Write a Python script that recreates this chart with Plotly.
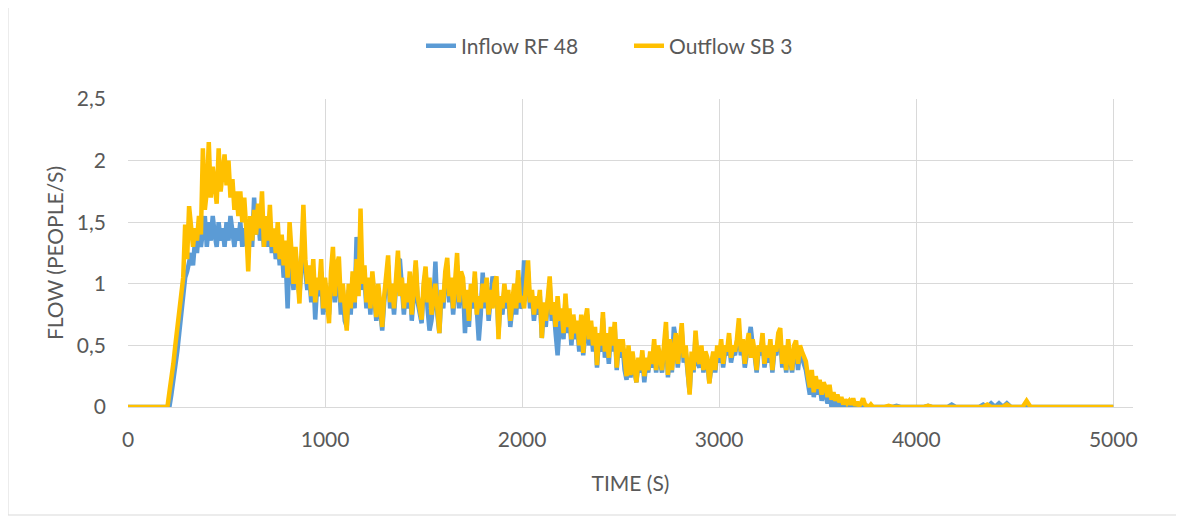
import plotly.graph_objects as go

# time axis (s): 20 s steps before the flow starts, 10 s steps while it is active, 20 s after
time_s = list(range(0, 200, 20)) + list(range(200, 3800, 10)) + list(range(3800, 5001, 20))

inflow_rf48 = (
    [0, 0, 0, 0, 0, 0, 0, 0, 0, 0]
    + [0.0, 0.0, 0.1, 0.2, 0.32, 0.45, 0.6, 0.75, 0.9, 1.05,
       1.1, 1.2, 1.25, 1.15, 1.35, 1.25, 1.45, 1.3, 1.4, 1.55,
       1.3, 1.5, 1.35, 1.55, 1.4, 1.3, 1.5, 1.35, 1.45, 1.3,
       1.5, 1.35, 1.55, 1.4, 1.3, 1.45, 1.35, 1.5, 1.3, 1.45,
       1.35, 1.25, 1.45, 1.3, 1.7, 1.4, 1.55, 1.35, 1.5, 1.3,
       1.45, 1.3, 1.5, 1.25, 1.4, 1.2, 1.35, 1.15, 1.3, 1.05,
       1.2, 0.8, 1.3, 1.1, 0.95, 1.25, 1.05, 0.9, 1.15, 1.3,
       1.1, 0.95, 1.05, 0.85, 1.1, 0.71, 1.0, 0.9, 1.1, 0.75,
       1.0, 0.8, 0.75, 1.05, 1.2, 0.85, 1.1, 1.05, 0.75, 0.95,
       0.7, 0.65, 0.95, 0.75, 1.05, 0.8, 1.38, 1.1, 1.3, 0.95,
       1.05, 0.8, 1.0, 0.75, 1.05, 0.9, 0.7, 0.95, 0.8, 0.62,
       0.85, 1.0, 1.15, 0.8, 0.95, 0.75, 1.05, 1.2, 1.19, 1.0,
       0.75, 0.95, 0.8, 1.05, 0.7, 0.9, 1.15, 0.85, 0.75, 0.68,
       0.95, 1.1, 0.8, 0.62, 0.7, 0.85, 1.18, 0.75, 0.6, 0.9,
       0.8, 1.05, 1.15, 0.85, 1.0, 0.75, 0.95, 1.15, 0.8, 1.05,
       1.0, 0.6, 0.9, 0.65, 0.95, 0.8, 1.05, 0.7, 0.54, 0.75,
       1.09, 0.8, 1.0, 0.7, 0.9, 1.06, 0.95, 1.0, 0.6, 0.85,
       0.75, 0.95, 0.8, 0.9, 0.65, 0.85, 0.95, 0.75, 1.05, 0.8,
       0.85, 1.19, 0.95, 1.1, 0.8, 0.9, 0.7, 0.85, 0.75, 0.9,
       0.56, 0.8, 0.65, 0.85, 1.0, 0.7, 0.8, 0.6, 0.42, 0.65,
       0.75, 0.55, 0.88, 0.6, 0.75, 0.5, 0.7, 0.55, 0.65, 0.45,
       0.7, 0.42, 0.65, 0.75, 0.5, 0.65, 0.45, 0.6, 0.32, 0.55,
       0.45, 0.72, 0.4, 0.55, 0.35, 0.6, 0.45, 0.64, 0.3, 0.5,
       0.4, 0.5, 0.3, 0.22, 0.45, 0.24, 0.4, 0.28, 0.2, 0.35,
       0.28, 0.42, 0.2, 0.36, 0.28, 0.42, 0.32, 0.5, 0.28, 0.45,
       0.36, 0.28, 0.46, 0.62, 0.24, 0.5, 0.28, 0.65, 0.55, 0.32,
       0.5, 0.62, 0.36, 0.45, 0.28, 0.12, 0.4, 0.28, 0.58, 0.36,
       0.32, 0.45, 0.28, 0.42, 0.36, 0.2, 0.32, 0.42, 0.28, 0.45,
       0.36, 0.5, 0.32, 0.45, 0.42, 0.55, 0.36, 0.45, 0.42, 0.5,
       0.62, 0.42, 0.5, 0.32, 0.45, 0.55, 0.65, 0.5, 0.42, 0.28,
       0.45, 0.42, 0.55, 0.32, 0.45, 0.36, 0.5, 0.28, 0.45, 0.42,
       0.55, 0.58, 0.32, 0.45, 0.28, 0.5, 0.36, 0.28, 0.45, 0.5,
       0.3, 0.45, 0.4, 0.35, 0.3, 0.2, 0.1, 0.25, 0.08, 0.2,
       0.1, 0.18, 0.05, 0.15, 0.1, 0.03, 0.12, 0.0, 0.08, 0.0,
       0.06, 0.0, 0.05, 0.0, 0.03, 0.0, 0.02, 0.0, 0.04, 0.0,
       0.02, 0.0, 0.0, 0.03, 0.0, 0.0, 0.0, 0.0, 0.0, 0.0]
    + [0, 0, 0, 0, 0, 0.01, 0, 0, 0, 0,
       0, 0, 0, 0.01, 0, 0, 0, 0, 0, 0.02,
       0, 0, 0, 0, 0, 0, 0, 0.02, 0, 0.03,
       0, 0.03, 0, 0.03, 0, 0, 0, 0, 0, 0,
       0, 0, 0, 0, 0, 0, 0, 0, 0, 0,
       0, 0, 0, 0, 0, 0, 0, 0, 0, 0,
       0]
)

outflow_sb3 = (
    [0, 0, 0, 0, 0, 0, 0, 0, 0, 0]
    + [0.0, 0.12, 0.22, 0.35, 0.5, 0.65, 0.8, 0.92, 1.05, 1.48,
       1.2, 1.63, 1.4, 1.3, 1.45, 1.35, 1.55, 1.4, 2.1, 1.6,
       1.75, 2.15, 1.7, 1.95, 1.8, 1.65, 2.1, 1.75, 1.9, 2.05,
       1.8, 2.0, 1.7, 1.85, 1.6, 1.75, 1.55, 1.75, 1.5, 1.7,
       1.45, 1.1, 1.55, 1.35, 1.6, 1.4, 1.65, 1.45, 1.75, 1.3,
       1.55, 1.35, 1.64, 1.3, 1.45, 1.25, 1.5, 1.2, 1.4, 1.15,
       1.35, 1.05, 1.5, 1.2, 1.0, 1.3, 1.1, 0.84, 1.25, 1.64,
       1.2, 1.0, 1.15, 0.9, 1.2, 0.85, 1.05, 0.95, 1.2, 0.8,
       1.05, 0.85, 0.68, 1.1, 1.3, 0.9, 1.15, 1.22, 0.85, 1.0,
       0.75, 0.62, 1.0, 0.8, 1.1, 0.85, 1.2, 0.9, 1.61, 1.0,
       1.15, 0.85, 1.05, 0.8, 1.1, 0.95, 0.73, 1.0, 0.85, 0.65,
       0.9, 1.05, 1.23, 0.85, 1.0, 0.8, 1.1, 1.27, 0.9, 1.05,
       0.8, 1.0, 0.85, 1.1, 0.75, 0.95, 1.19, 0.9, 0.8, 0.71,
       1.0, 1.14, 0.85, 1.05, 0.75, 0.9, 1.0, 0.8, 0.6, 0.95,
       0.85, 1.1, 1.21, 0.9, 1.05, 0.8, 1.0, 1.25, 0.85, 1.1,
       1.05, 0.8, 0.95, 0.7, 1.0, 0.85, 1.1, 0.75, 0.9, 0.8,
       1.0, 0.85, 1.05, 0.75, 0.95, 0.8, 1.0, 1.06, 0.55, 0.9,
       0.8, 1.0, 0.85, 0.95, 0.7, 0.9, 1.0, 0.8, 1.11, 0.85,
       0.9, 0.8, 1.0, 1.19, 0.85, 0.95, 0.75, 0.9, 0.8, 0.95,
       0.56, 0.85, 0.7, 0.9, 1.06, 0.75, 0.85, 0.65, 0.9, 0.7,
       0.8, 0.6, 0.92, 0.65, 0.8, 0.55, 0.75, 0.6, 0.7, 0.5,
       0.75, 0.44, 0.7, 0.8, 0.55, 0.7, 0.5, 0.65, 0.34, 0.6,
       0.5, 0.77, 0.45, 0.6, 0.4, 0.65, 0.5, 0.69, 0.32, 0.55,
       0.45, 0.55, 0.35, 0.25, 0.5, 0.26, 0.45, 0.3, 0.2, 0.4,
       0.3, 0.46, 0.25, 0.4, 0.3, 0.45, 0.35, 0.55, 0.3, 0.5,
       0.4, 0.3, 0.5, 0.69, 0.26, 0.55, 0.3, 0.45, 0.6, 0.35,
       0.55, 0.68, 0.4, 0.5, 0.3, 0.1, 0.45, 0.3, 0.62, 0.4,
       0.35, 0.5, 0.3, 0.45, 0.4, 0.19, 0.35, 0.45, 0.3, 0.5,
       0.4, 0.55, 0.35, 0.5, 0.45, 0.6, 0.4, 0.5, 0.45, 0.55,
       0.72, 0.45, 0.55, 0.35, 0.5, 0.6, 0.4, 0.55, 0.45, 0.3,
       0.5, 0.45, 0.6, 0.35, 0.5, 0.4, 0.55, 0.3, 0.5, 0.45,
       0.6, 0.64, 0.35, 0.5, 0.3, 0.55, 0.4, 0.3, 0.5, 0.54,
       0.35, 0.5, 0.45, 0.4, 0.37, 0.25, 0.16, 0.3, 0.12, 0.25,
       0.15, 0.22, 0.1, 0.2, 0.16, 0.08, 0.18, 0.06, 0.12, 0.05,
       0.1, 0.04, 0.08, 0.02, 0.06, 0.03, 0.05, 0.02, 0.07, 0.01,
       0.04, 0.01, 0.03, 0.07, 0.02, 0.01, 0.0, 0.02, 0.0, 0.0]
    + [0, 0, 0, 0.01, 0, 0, 0, 0, 0, 0,
       0, 0, 0, 0.01, 0, 0, 0, 0, 0, 0,
       0, 0, 0, 0, 0, 0, 0, 0, 0.02, 0,
       0, 0, 0, 0.02, 0, 0, 0, 0, 0.05, 0,
       0, 0, 0, 0, 0, 0, 0, 0, 0, 0,
       0, 0, 0, 0, 0, 0, 0, 0, 0, 0,
       0]
)

series_names = ["Inflow RF 48", "Outflow SB 3"]
x_ticks = [0, 1000, 2000, 3000, 4000, 5000]
y_ticks = [0, 0.5, 1, 1.5, 2, 2.5]

W, H = 1184, 520
ML, MT = 120, 91
pw, ph = 1005, 308
MR, MB = W - ML - pw, H - MT - ph

FONT_FAMILY = "Lato, 'Open Sans', sans-serif"
GREY = "#595959"
GRID = "#D9D9D9"

fig = go.Figure()
fig.add_trace(go.Scatter(x=time_s, y=inflow_rf48, mode="lines", name=series_names[0],
                         line=dict(color="#5B9BD5", width=4.5)))
fig.add_trace(go.Scatter(x=time_s, y=outflow_sb3, mode="lines", name=series_names[1],
                         line=dict(color="#FFC000", width=4.5)))

fig.update_layout(
    width=W, height=H,
    margin=dict(l=ML, r=MR, t=MT, b=MB),
    paper_bgcolor="white", plot_bgcolor="white",
    font=dict(family=FONT_FAMILY, color=GREY, size=21),
    separators=", ",
    showlegend=True,
    legend=dict(orientation="h", x=(413 - ML) / pw, xanchor="left",
                y=1 + (MT - 38) / ph, yanchor="middle",
                entrywidth=163, entrywidthmode="pixels",
                font=dict(size=21, color=GREY, family=FONT_FAMILY)),
    xaxis=dict(range=[0, 5100], tickvals=x_ticks, tickformat="d",
               showgrid=True, gridcolor=GRID, gridwidth=1,
               zeroline=False, showline=True, linecolor=GRID,
               ticks="", ticklabelstandoff=14,
               title=dict(text="TIME (S)", standoff=26, font=dict(size=21))),
    yaxis=dict(range=[0, 2.5], tickvals=y_ticks,
               showgrid=True, gridcolor=GRID, gridwidth=1,
               zeroline=False, showline=False,
               ticks="", ticklabelstandoff=21,
               title=dict(text="FLOW (PEOPLE/S)", standoff=7, font=dict(size=21))),
    shapes=[dict(type="rect", xref="paper", yref="paper",
                 x0=-ML / pw, x1=(1169 - ML) / pw,
                 y0=1 - (507 - MT) / ph, y1=1 + (MT + 3) / ph,
                 line=dict(color=GRID, width=1), fillcolor="rgba(0,0,0,0)", layer="below")],
)

fig.write_html("out.html")
